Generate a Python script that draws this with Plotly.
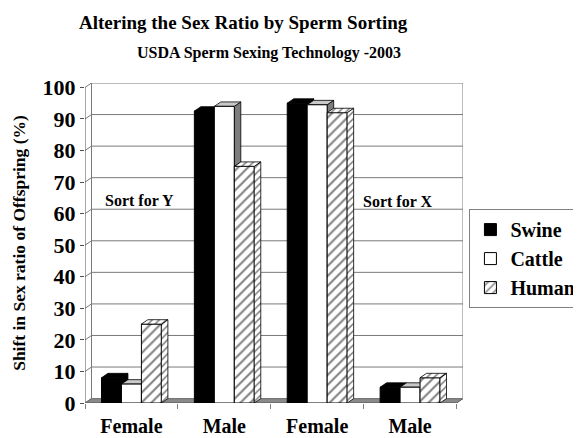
import plotly.graph_objects as go

# ---------------- data ----------------
categories = ["Female", "Male", "Female", "Male"]
series_names = ["Swine", "Cattle", "Human"]
swine = [8, 92.5, 95, 5]
cattle = [6, 94, 94.5, 5]
human = [25, 75, 92, 8]
y_ticks = [0, 10, 20, 30, 40, 50, 60, 70, 80, 90, 100]
notes = ["Sort for Y", "Sort for X"]
note_x = [0.09, 2.87]
note_y = [64.3, 64.0]

# ---------------- styling ----------------
FONT = "Liberation Serif, Times New Roman, serif"
BAR_W = 0.215          # front width of each bar (category units)
DX, DY = 0.07, 1.4     # 3-D depth offset (x units, y units)
GRID = "#7a7a7a"

xs = list(range(len(categories)))
values = [swine, cattle, human]
fills = ["black", "white", "white"]
patterns = ["", "", "/"]
top_cols = ["black", "#c9c9c9", None]
side_cols = ["black", "#7d7d7d", None]

x_lo, x_hi = xs[0] - 0.5, xs[-1] + 0.5
y_top = y_ticks[-1]

fig = go.Figure()

# front faces of bars
for k, (name, vals) in enumerate(zip(series_names, values)):
    fig.add_trace(go.Bar(
        x=xs, y=vals, name=name,
        width=BAR_W, offset=-1.5 * BAR_W + k * BAR_W,
        marker=dict(color=fills[k], line=dict(color="black", width=1),
                    pattern=dict(shape=patterns[k], fgcolor="black", bgcolor="white",
                                 size=7, solidity=0.28)),
        hoverinfo="x+y+name",
    ))

shapes = []
# floor
shapes.append(dict(type="path", layer="below",
                   path=f"M {x_lo},0 L {x_hi},0 L {x_hi+DX},{DY} L {x_lo+DX},{DY} Z",
                   fillcolor="#8a8a8a", line=dict(color="#505050", width=1)))
# back-wall gridlines joined to the front axis
for v in y_ticks:
    shapes.append(dict(type="path", layer="below",
                       path=f"M {x_lo},{v} L {x_lo+DX},{v+DY} L {x_hi+DX},{v+DY}",
                       line=dict(color=GRID, width=1)))
# wall edges
shapes.append(dict(type="line", layer="below", x0=x_lo + DX, x1=x_lo + DX, y0=DY, y1=y_top + DY,
                   line=dict(color=GRID, width=1)))
shapes.append(dict(type="line", layer="below", x0=x_hi + DX, x1=x_hi + DX, y0=DY, y1=y_top + DY,
                   line=dict(color=GRID, width=1)))
shapes.append(dict(type="line", layer="below", x0=x_lo, x1=x_lo, y0=0, y1=y_top,
                   line=dict(color="#505050", width=1)))

# 3-D side and top faces for Swine and Cattle (drawn beneath the bar fronts)
for k in range(2):
    for i, v in zip(xs, values[k]):
        x0 = i - 1.5 * BAR_W + k * BAR_W
        x1 = x0 + BAR_W
        shapes.append(dict(type="path", layer="between",
                           path=f"M {x1},0 L {x1+DX},{DY} L {x1+DX},{v+DY} L {x1},{v} Z",
                           fillcolor=side_cols[k], line=dict(color="black", width=0.8)))
        shapes.append(dict(type="path", layer="between",
                           path=f"M {x0},{v} L {x1},{v} L {x1+DX},{v+DY} L {x0+DX},{v+DY} Z",
                           fillcolor=top_cols[k], line=dict(color="black", width=0.8)))

# 3-D faces for Human (rightmost bar, nothing in front of them)
k = 2
sx, sy, tx, ty = [], [], [], []
for i, v in zip(xs, values[k]):
    x0 = i - 1.5 * BAR_W + k * BAR_W
    x1 = x0 + BAR_W
    sx += [x1, x1 + DX, x1 + DX, x1, x1, None]
    sy += [0, DY, v + DY, v, 0, None]
    tx += [x0, x1, x1 + DX, x0 + DX, x0, None]
    ty += [v, v, v + DY, v + DY, v, None]
for px, py in ((sx, sy), (tx, ty)):
    fig.add_trace(go.Scatter(
        x=px, y=py, mode="lines", fill="toself", showlegend=False, hoverinfo="skip",
        line=dict(color="black", width=0.8),
        fillcolor="white",
        fillpattern=dict(shape="/", fgcolor="black", bgcolor="white", size=5, solidity=0.3),
    ))

annotations = [
    dict(text="<b>Altering the Sex Ratio by Sperm Sorting</b>", xref="paper", yref="paper",
         x=0.419, y=1.188, xanchor="center", yanchor="middle", showarrow=False,
         font=dict(family=FONT, size=19, color="black")),
    dict(text="<b>USDA Sperm Sexing Technology -2003</b>", xref="paper", yref="paper",
         x=0.487, y=1.095, xanchor="center", yanchor="middle", showarrow=False,
         font=dict(family=FONT, size=16, color="black")),
]
for t, ax, ay in zip(notes, note_x, note_y):
    annotations.append(dict(text=f"<b>{t}</b>", x=ax, y=ay, xref="x", yref="y", showarrow=False,
                            xanchor="center", yanchor="middle",
                            font=dict(family=FONT, size=16, color="black")))

minor_ticks = [x - 0.5 for x in xs] + [xs[-1] + 0.5]

# note: the page body adds an 8px offset, margins are reduced to compensate
fig.update_layout(
    width=581, height=438,
    paper_bgcolor="white", plot_bgcolor="white",
    barmode="overlay",
    margin=dict(l=77, r=125.5, t=74.5, b=42.5, autoexpand=False),
    font=dict(family=FONT, color="black"),
    shapes=shapes, annotations=annotations,
    showlegend=True,
    legend=dict(x=1.017, y=0.606, xanchor="left", yanchor="top",
                bordercolor="#808080", borderwidth=1, bgcolor="white",
                font=dict(family=FONT, size=20, color="black", weight="bold"),
                itemwidth=30, traceorder="normal"),
    xaxis=dict(range=[x_lo, x_hi + DX], tickmode="array", tickvals=xs, ticktext=categories,
               ticks="", showgrid=False, zeroline=False, showline=False,
               tickfont=dict(family=FONT, size=20, color="black", weight="bold"),
               ticklabelstandoff=9,
               minor=dict(tickmode="array", tickvals=minor_ticks, ticks="outside", ticklen=5,
                          tickcolor="#808080", showgrid=False)),
    yaxis=dict(range=[0, y_top + DY], tickmode="array", tickvals=y_ticks,
               ticks="outside", ticklen=4, tickcolor="#505050",
               showgrid=False, zeroline=False, showline=False,
               tickfont=dict(family=FONT, size=22, color="black", weight="bold"),
               title=dict(text="Shift in Sex ratio of Offspring (%)", standoff=12,
                          font=dict(family=FONT, size=17.5, color="black", weight="bold"))),
)

fig.write_html("out.html")
